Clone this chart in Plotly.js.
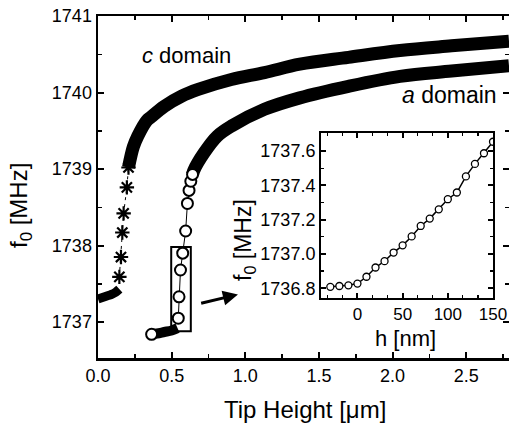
<!DOCTYPE html>
<html>
<head>
<meta charset="utf-8">
<script src="https://cdn.plot.ly/plotly-3.0.1.min.js"></script>
<style>html,body{margin:0;padding:0;background:#fff;}#chart{width:509px;height:432px;}</style>
</head>
<body>
<div id="chart"></div>
<script>
// c domain (asterisks)
const cBandX = [0.00, 0.03, 0.06, 0.09, 0.12, 0.145];
const cBandY = [1737.30, 1737.32, 1737.34, 1737.36, 1737.39, 1737.43];
const cJumpX = [0.145, 0.156, 0.165, 0.174, 0.196, 0.207];
const cJumpY = [1737.59, 1737.85, 1738.17, 1738.42, 1738.76, 1739.02];
const cCurveX = [0.207, 0.24, 0.27, 0.33, 0.36, 0.45, 0.565, 0.68, 0.905, 1.13, 1.37, 1.7, 2.05, 2.4, 2.79];
const cCurveY = [1739.02, 1739.29, 1739.43, 1739.63, 1739.68, 1739.82, 1739.95, 1740.04, 1740.17, 1740.26, 1740.37, 1740.46, 1740.55, 1740.61, 1740.67];
// a domain (circles)
const aBandX = [0.364, 0.40, 0.45, 0.50, 0.54];
const aBandY = [1736.84, 1736.85, 1736.87, 1736.89, 1736.92];
const aJumpX = [0.545, 0.550, 0.560, 0.575, 0.595, 0.607, 0.618, 0.630, 0.642];
const aJumpY = [1737.05, 1737.33, 1737.68, 1737.90, 1738.19, 1738.55, 1738.72, 1738.84, 1738.93];
const aCurveX = [0.642, 0.65, 0.72, 0.81, 0.905, 1.13, 1.37, 1.7, 2.05, 2.4, 2.79];
const aCurveY = [1738.93, 1738.98, 1739.21, 1739.43, 1739.56, 1739.78, 1739.93, 1740.08, 1740.21, 1740.28, 1740.35];
// inset
const insetH = [-30, -20, -10, 0, 10, 20, 30, 40, 50, 60, 70, 80, 90, 100, 110, 120, 130, 140, 150];
const insetF = [1736.808, 1736.813, 1736.817, 1736.827, 1736.867, 1736.921, 1736.958, 1737.008, 1737.050, 1737.102, 1737.163, 1737.206, 1737.260, 1737.319, 1737.358, 1737.452, 1737.525, 1737.587, 1737.654];
const xTicks = [0, 0.5, 1.0, 1.5, 2.0, 2.5];
const xTickText = ['0.0', '0.5', '1.0', '1.5', '2.0', '2.5'];
const yTicks = [1737, 1738, 1739, 1740, 1741];
const ixTicks = [0, 50, 100, 150];
const iyTicks = [1736.8, 1737.0, 1737.2, 1737.4, 1737.6];
const iyTickText = ['1736.8', '1737.0', '1737.2', '1737.4', '1737.6'];

const FONT = 'Liberation Sans, Arial, sans-serif';
const traces = [
  {x: cBandX, y: cBandY, mode: 'lines', line: {color: 'black', width: 9, shape: 'spline'}, hoverinfo: 'skip'},
  {x: cCurveX, y: cCurveY, mode: 'lines', line: {color: 'black', width: 13, shape: 'spline'}, hoverinfo: 'skip'},
  {x: cJumpX, y: cJumpY, mode: 'lines+markers', line: {color: 'black', width: 1, dash: '3px,4px'},
   marker: {symbol: 'asterisk-open', size: 12, line: {color: 'black', width: 2.2}}},
  {x: aBandX, y: aBandY, mode: 'lines', line: {color: 'black', width: 10, shape: 'spline'}, hoverinfo: 'skip'},
  {x: aCurveX, y: aCurveY, mode: 'lines', line: {color: 'black', width: 13, shape: 'spline'}, hoverinfo: 'skip'},
  {x: aJumpX, y: aJumpY, mode: 'lines+markers', line: {color: 'black', width: 1},
   marker: {symbol: 'circle', size: 11, color: 'white', line: {color: 'black', width: 2}}},
  {x: [aBandX[0]], y: [aBandY[0]], mode: 'markers',
   marker: {symbol: 'circle', size: 11, color: 'white', line: {color: 'black', width: 2}}},
  {x: insetH, y: insetF, xaxis: 'x2', yaxis: 'y2', mode: 'lines+markers', line: {color: 'black', width: 1.5},
   marker: {symbol: 'circle', size: 7, color: 'white', line: {color: 'black', width: 1.3}}}
];

const axBase = {showgrid: false, zeroline: false, showline: true, linecolor: 'black', mirror: 'allticks',
  ticks: 'inside', tickcolor: 'black', tickwidth: 2, ticklen: 6,
  tickfont: {family: FONT, size: 18, color: 'black'}};

const layout = {
  width: 509, height: 432,
  margin: {l: 98, r: 0, t: 16, b: 74},
  paper_bgcolor: 'white', plot_bgcolor: 'white',
  showlegend: false,
  font: {family: FONT, color: 'black'},
  xaxis: Object.assign({}, axBase, {range: [0, 2.79], tickvals: xTicks, ticktext: xTickText, linewidth: 2.5,
    minor: {dtick: 0.25, tick0: 0, ticks: 'inside', ticklen: 4, tickwidth: 1.5, tickcolor: 'black'}}),
  yaxis: Object.assign({}, axBase, {range: [1736.53, 1741], tickvals: yTicks, linewidth: 2.5,
    minor: {dtick: 0.5, tick0: 1737, ticks: 'inside', ticklen: 4, tickwidth: 1.5, tickcolor: 'black'}}),
  xaxis2: Object.assign({}, axBase, {domain: [0.5426, 0.9611], anchor: 'y2', range: [-40.3, 150], tickvals: ixTicks,
    linewidth: 2, ticklen: 5, tickfont: {family: FONT, size: 17, color: 'black'},
    minor: {dtick: 50/3, tick0: 0, ticks: 'inside', ticklen: 3, tickwidth: 1.2, tickcolor: 'black'}}),
  yaxis2: Object.assign({}, axBase, {domain: [0.1754, 0.6579], anchor: 'x2', range: [1736.743, 1737.705],
    tickvals: iyTicks, ticktext: iyTickText, linewidth: 2, ticklen: 5,
    minor: {dtick: 0.1, tick0: 1736.8, ticks: 'inside', ticklen: 3, tickwidth: 1.2, tickcolor: 'black'}}),
  shapes: [
    {type: 'rect', xref: 'x', yref: 'y', x0: 0.497, x1: 0.63, y0: 1736.88, y1: 1737.98,
     line: {color: 'black', width: 2}, fillcolor: 'rgba(0,0,0,0)'}
  ],
  annotations: [
    {xref: 'x', yref: 'y', x: 0.95, y: 1737.36, ax: 0.69, ay: 1737.24, axref: 'x', ayref: 'y',
     showarrow: true, arrowhead: 2, arrowsize: 1, arrowwidth: 3, arrowcolor: 'black', text: ''},
    {xref: 'x', yref: 'y', x: 0.60, y: 1740.49, text: '<i>c</i> domain', showarrow: false,
     font: {family: FONT, size: 22, color: 'black'}},
    {xref: 'x', yref: 'y', x: 2.388, y: 1739.97, text: '<i>a</i> domain', showarrow: false,
     font: {family: FONT, size: 23, color: 'black'}},
    {xref: 'paper', yref: 'paper', x: 0.5036, y: -0.152, text: 'Tip Height [μm]', showarrow: false,
     xanchor: 'center', yanchor: 'middle', font: {family: FONT, size: 24, color: 'black'}},
    {xref: 'paper', yref: 'paper', x: -0.19, y: 0.447, text: 'f<sub>0</sub> [MHz]', showarrow: false, textangle: -90,
     xanchor: 'center', yanchor: 'middle', font: {family: FONT, size: 24, color: 'black'}},
    {xref: 'paper', yref: 'paper', x: 0.355, y: 0.345, text: 'f<sub>0</sub> [MHz]', showarrow: false, textangle: -90,
     xanchor: 'center', yanchor: 'middle', font: {family: FONT, size: 23, color: 'black'}},
    {xref: 'paper', yref: 'paper', x: 0.747, y: 0.056, text: 'h [nm]', showarrow: false,
     xanchor: 'center', yanchor: 'middle', font: {family: FONT, size: 22, color: 'black'}}
  ]
};

Plotly.newPlot('chart', traces, layout, {displayModeBar: false, staticPlot: true});
</script>
</body>
</html>
